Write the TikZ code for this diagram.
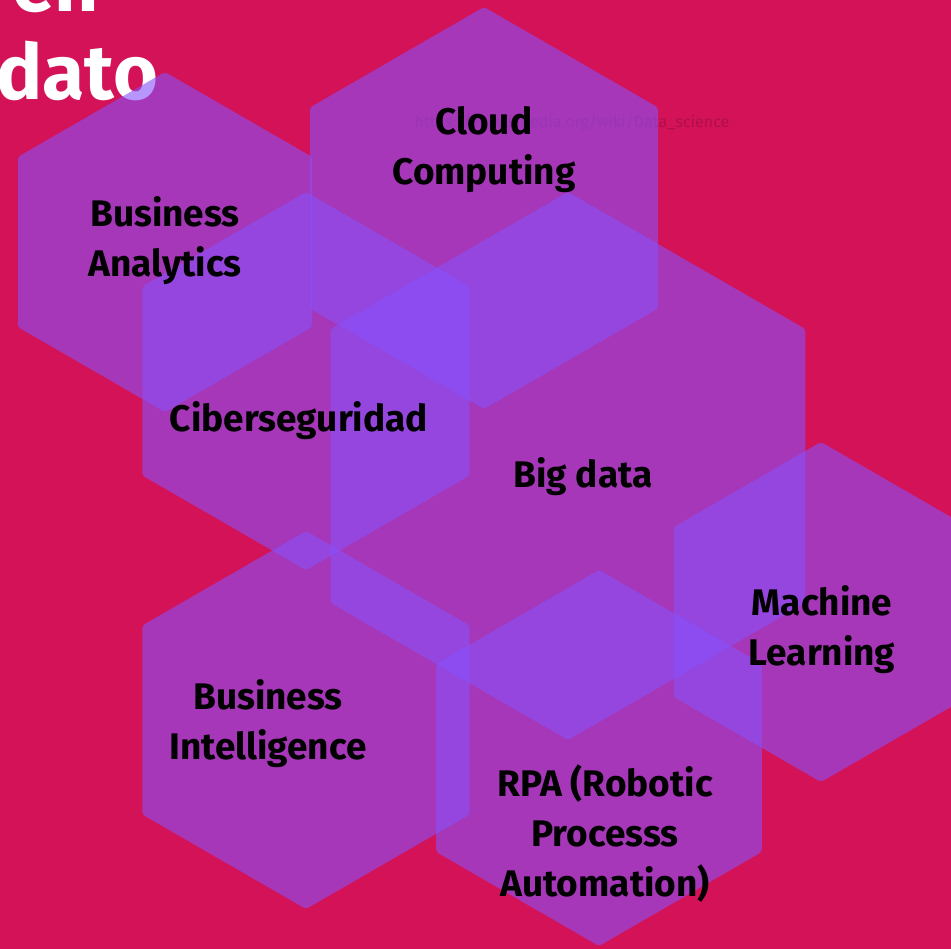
\documentclass[tikz,border=0pt]{standalone}
\usepackage{fontspec}
\setmainfont{Fira Sans}
\definecolor{bgmag}{HTML}{D31257}
\definecolor{hexviolet}{HTML}{8850FA}
\begin{document}
\begin{tikzpicture}[x=1pt,y=-1pt,
  hexfill/.style={fill=hexviolet,fill opacity=0.6,rounded corners=3pt},
  label/.style={align=center,text=black,inner sep=0pt,font=\bfseries\fontsize{37}{50}\selectfont},
  title/.style={text=white,inner sep=0pt,font=\bfseries\fontsize{77}{88}\selectfont},
  url/.style={text=black,text opacity=0.16,inner sep=0pt,font=\fontsize{16}{20}\selectfont}]
\useasboundingbox (0,0) rectangle (951,949);
\fill[bgmag] (0,0) rectangle (951,949);
% title words
\node[title,anchor=base west] (ten) at (12,12) {en};
\node[title,anchor=base west] (tdato) at (-4,100) {dato};
% faint url
\node[url] (url) at (572,123) {https://en.wikipedia.org/wiki/Data\_science};
% hexagons
\newcommand{\hexat}[3]{\fill[hexfill] (#1,#2) +(90:#3) -- +(30:#3) -- +(-30:#3) -- +(-90:#3) -- +(-150:#3) -- +(150:#3) -- cycle;}
\hexat{165}{242}{170}
\hexat{484}{208}{201}
\hexat{306}{381}{189}
\hexat{568}{466}{274}
\hexat{821}{612}{170}
\hexat{306}{720}{189}
\hexat{599}{758}{188}
% labels
\node[label] (ba) at (165,241) {Business\\Analytics};
\node[label] (cc) at (484,150) {Cloud\\Computing};
\node[label] (cs) at (299,421) {Ciberseguridad};
\node[label] (bd) at (583,477) {Big data};
\node[label] (ml) at (822,630) {Machine\\Learning};
\node[label] (bi) at (268,724) {Business\\Intelligence};
\node[label] (rpa) at (605,834) {RPA (Robotic\\Processs\\Automation)};
\end{tikzpicture}
\end{document}
